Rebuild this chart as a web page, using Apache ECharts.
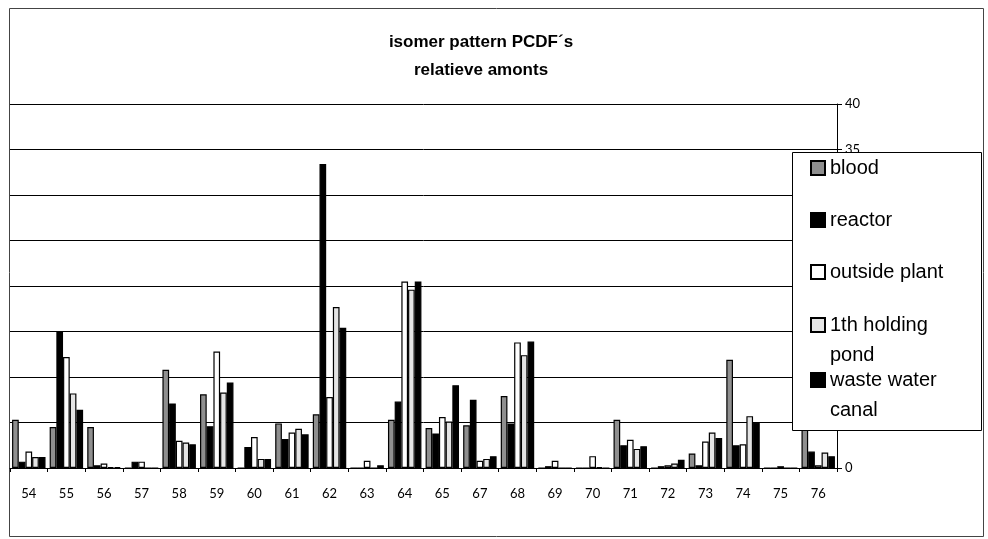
<!DOCTYPE html>
<html>
<head>
<meta charset="utf-8">
<script src="https://cdn.jsdelivr.net/npm/echarts@6/dist/echarts.min.js"></script>
<style>
  html, body { margin: 0; padding: 0; background: #fff; }
  #chart { width: 988px; height: 539px; }
</style>
</head>
<body>
<div id="chart"></div>
<script>
var categories = ['54', '55', '56', '57', '58', '59', '60', '61', '62', '63', '64', '65', '67', '68', '69', '70', '71', '72', '73', '74', '75', '76'];

var blood   = [5.3, 4.5, 4.5, 0, 10.8, 8.1, 0, 4.9, 5.9, 0, 5.3, 4.4, 4.7, 7.9, 0, 0, 5.3, 0, 1.6, 11.9, 0, 5.5];
var reactor = [0.7, 15.0, 0.3, 0.7, 7.1, 4.6, 2.3, 3.2, 33.4, 0, 7.3, 3.8, 7.5, 4.9, 0.2, 0, 2.5, 0.2, 0.3, 2.5, 0, 1.8];
var outside = [1.8, 12.2, 0.5, 0.7, 3.0, 12.8, 3.4, 3.9, 7.8, 0.8, 20.5, 5.6, 0.8, 13.8, 0.8, 1.3, 3.1, 0.3, 2.9, 2.6, 0.2, 0.3];
var pond    = [1.2, 8.2, 0.1, 0, 2.8, 8.3, 1.0, 4.3, 17.7, 0, 19.6, 5.1, 1.0, 12.4, 0, 0.1, 2.1, 0.5, 3.9, 5.7, 0, 1.7];
var waste   = [1.2, 6.4, 0.1, 0, 2.6, 9.4, 1.0, 3.7, 15.4, 0.3, 20.5, 9.1, 1.3, 13.9, 0, 0, 2.4, 0.9, 3.3, 5.0, 0, 1.3];

var seriesNames = ['blood', 'reactor', 'outside plant', '1th holding pond', 'waste water canal'];
// a leading empty line keeps the icon level with the first text line
var legendLabels = ['blood', 'reactor', 'outside plant', '\n1th holding\npond', '\nwaste water\ncanal'];
var fills = ['#8f8f8f', '#000000', '#ffffff', '#e4e4e4', '#000000'];
var values = [blood, reactor, outside, pond, waste];

// icon centres of the legend entries (y, px)
var legendY = [168, 220, 272, 325, 380];

var chart = echarts.init(document.getElementById('chart'), null, { renderer: 'canvas' });

var series = seriesNames.map(function (name, i) {
    return {
        name: name,
        type: 'bar',
        data: values[i],
        barGap: '0%',
        barCategoryGap: '11%',
        itemStyle: {
            color: fills[i],
            borderColor: '#000',
            borderWidth: 1.2
        },
        animation: false
    };
});

var legends = seriesNames.map(function (name, i) {
    var lines = legendLabels[i].split('\n').length;
    return {
        data: [name],
        left: 810,
        top: legendY[i] - lines * 15,
        padding: 0,
        icon: 'rect',
        itemWidth: 14,
        itemHeight: 14,
        itemGap: 0,
        selectedMode: false,
        formatter: function () { return legendLabels[i]; },
        textStyle: {
            fontFamily: 'Liberation Sans, Arial, sans-serif',
            fontSize: 20,
            color: '#000',
            lineHeight: 30
        }
    };
});

chart.setOption({
    backgroundColor: '#fff',
    title: {
        text: 'isomer pattern PCDF\u00b4s\nrelatieve amonts',
        left: 476,
        top: 23,
        textAlign: 'center',
        textStyle: {
            fontFamily: 'Liberation Sans, Arial, sans-serif',
            fontWeight: 'bold',
            fontSize: 17,
            lineHeight: 28,
            color: '#000'
        }
    },
    legend: legends,
    grid: {
        left: 10,
        right: 151,
        top: 104,
        bottom: 71,
        show: false
    },
    xAxis: {
        type: 'category',
        data: categories,
        axisLine: { lineStyle: { color: '#000', width: 1 } },
        axisTick: { show: true, length: 4, lineStyle: { color: '#000' } },
        axisLabel: {
            margin: 19,
            fontFamily: 'Lato, sans-serif',
            fontSize: 13,
            color: '#000'
        }
    },
    yAxis: {
        type: 'value',
        position: 'right',
        min: 0,
        max: 40,
        interval: 5,
        axisLine: { show: true, lineStyle: { color: '#000', width: 1 } },
        axisTick: { show: true, length: 5, lineStyle: { color: '#000' } },
        axisLabel: {
            margin: 8,
            fontFamily: 'Lato, sans-serif',
            fontSize: 13,
            color: '#000'
        },
        splitLine: { show: true, lineStyle: { color: '#000', width: 1 } }
    },
    graphic: [
        {
            type: 'rect',
            z: 0,
            silent: true,
            shape: { x: 9.5, y: 8.5, width: 974, height: 528 },
            style: { fill: 'none', stroke: '#444', lineWidth: 1 }
        },
        {
            type: 'rect',
            z: 3,
            silent: true,
            shape: { x: 792.5, y: 152.5, width: 189, height: 278 },
            style: { fill: '#fff', stroke: '#000', lineWidth: 1 }
        }
    ],
    series: series
});
</script>
</body>
</html>
